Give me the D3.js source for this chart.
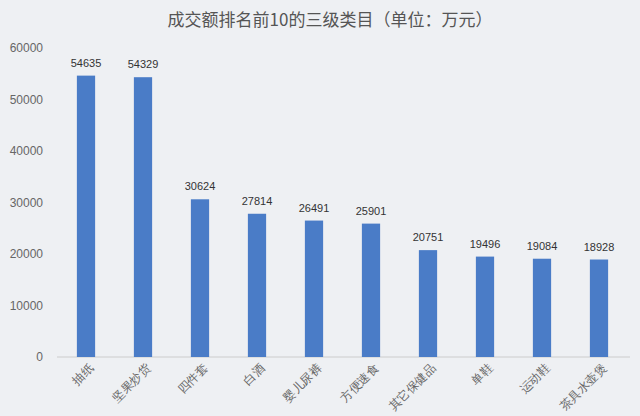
<!DOCTYPE html>
<html><head><meta charset="utf-8">
<script src="https://cdn.jsdelivr.net/npm/d3@7"></script>
<style>body{margin:0;background:#eef0f3;}svg{display:block;font-family:"Noto Sans CJK SC",sans-serif;}</style>
</head><body><svg id="c" width="640" height="416"></svg>
<script>
const categories=["抽纸","坚果炒货","四件套","白酒","婴儿尿裤","方便速食","其它保健品","单鞋","运动鞋","茶具水壶煲"];
const values=[54635,54329,30624,27814,26491,25901,20751,19496,19084,18928];
const yTicks=[0,10000,20000,30000,40000,50000,60000];
const svg=d3.select("#c");
svg.append("rect").attr("width",640).attr("height",416).attr("fill","#eef0f3");
const x=d3.scaleBand().domain(categories).range([57.5,627.5]).paddingInner(0.68).paddingOuter(0.34);
const y=d3.scaleLinear().domain([0,60000]).range([357,48]);
svg.append("text").attr("x",330).attr("y",26).attr("text-anchor","middle").attr("font-size",17).attr("fill","#555").text("成交额排名前10的三级类目（单位：万元）");
const ya=svg.append("g").attr("transform","translate(45,0)").call(d3.axisLeft(y).tickValues(yTicks).tickSize(0).tickPadding(2).tickFormat(d3.format("d")));
ya.select(".domain").remove();
ya.selectAll("text").attr("font-size",12).attr("fill","#666").attr("font-family","Liberation Sans, sans-serif");
svg.append("line").attr("x1",57).attr("x2",630).attr("y1",y(0)).attr("y2",y(0)).attr("stroke","#ccc");
svg.selectAll(".bar").data(values).join("rect").attr("fill","#4a7cc7")
 .attr("x",(d,i)=>x(categories[i])).attr("width",x.bandwidth()).attr("y",d=>y(d)).attr("height",d=>y(0)-y(d));
svg.selectAll(".lbl").data(values).join("text").attr("font-size",11).attr("fill","#333").attr("text-anchor","middle")
 .attr("font-family","Liberation Sans, sans-serif")
 .attr("x",(d,i)=>x(categories[i])+x.bandwidth()/2).attr("y",d=>y(d)-9).text(d=>d);
const xa=svg.append("g").attr("transform",`translate(0,${y(0)})`).call(d3.axisBottom(x).tickSize(0).tickPadding(0));
xa.select(".domain").remove();
xa.selectAll("text").attr("font-size",12).attr("fill","#666").attr("text-anchor","end").attr("dy","0")
 .attr("transform","translate(8,12) rotate(-45)");
</script></body></html>
